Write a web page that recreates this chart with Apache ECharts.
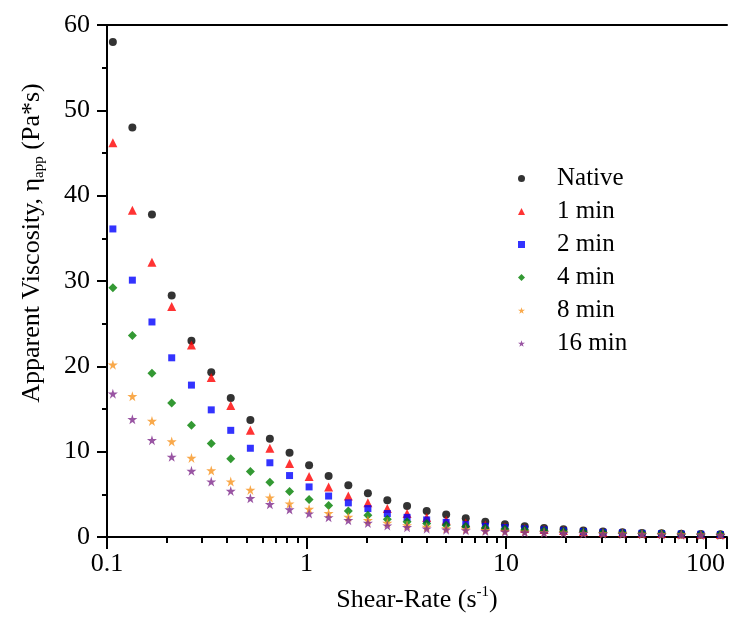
<!DOCTYPE html>
<html>
<head>
<meta charset="utf-8">
<script src="https://cdn.jsdelivr.net/npm/echarts@6.0.0/dist/echarts.min.js"></script>
<style>
  html, body { margin: 0; padding: 0; background: #fff; }
  #chart { width: 730px; height: 622px; }
</style>
</head>
<body>
<div id="chart"></div>
<script>
// shear rate (1/s)
var shearRate = [0.107, 0.134, 0.168, 0.211, 0.265, 0.333, 0.417, 0.523, 0.655, 0.822,
  1.03, 1.29, 1.62, 2.03, 2.54, 3.19, 4.00, 5.01, 6.28, 7.87,
  9.87, 12.4, 15.5, 19.4, 24.4, 30.6, 38.3, 48.0, 60.2, 75.5, 94.6, 118.6];

// apparent viscosity (Pa*s)
var native = [58.0, 48.0, 37.8, 28.3, 23.0, 19.3, 16.3, 13.7, 11.5, 9.86, 8.4, 7.16, 6.07, 5.13, 4.31, 3.64,
  3.05, 2.63, 2.19, 1.80, 1.49, 1.26, 1.06, 0.90, 0.75, 0.63, 0.55, 0.47, 0.43, 0.39, 0.35, 0.32];
var min1 = [46.2, 38.3, 32.2, 27.0, 22.5, 18.7, 15.4, 12.5, 10.4, 8.6, 7.1, 5.87, 4.8, 4.0, 3.33, 2.75,
  2.28, 1.96, 1.64, 1.41, 1.17, 1.0, 0.87, 0.75, 0.65, 0.57, 0.5, 0.44, 0.4, 0.36, 0.33, 0.3];
var min2 = [36.1, 30.1, 25.2, 21.0, 17.8, 14.9, 12.5, 10.4, 8.7, 7.2, 5.87, 4.8, 4.0, 3.33, 2.75, 2.3,
  2.0, 1.72, 1.45, 1.25, 1.1, 0.95, 0.83, 0.72, 0.63, 0.55, 0.48, 0.43, 0.39, 0.35, 0.32, 0.29];
var min4 = [29.2, 23.6, 19.2, 15.7, 13.1, 10.96, 9.16, 7.68, 6.42, 5.33, 4.39, 3.68, 3.05, 2.55, 2.08, 1.8,
  1.57, 1.37, 1.22, 1.06, 0.94, 0.83, 0.74, 0.65, 0.58, 0.51, 0.45, 0.41, 0.37, 0.33, 0.3, 0.28];
var min8 = [20.2, 16.5, 13.6, 11.2, 9.27, 7.79, 6.5, 5.52, 4.62, 3.92, 3.29, 2.78, 2.35, 1.96, 1.64, 1.37,
  1.17, 1.02, 0.9, 0.8, 0.71, 0.63, 0.57, 0.51, 0.46, 0.42, 0.38, 0.35, 0.32, 0.29, 0.27, 0.25];
var min16 = [16.8, 13.8, 11.35, 9.4, 7.75, 6.5, 5.4, 4.54, 3.84, 3.22, 2.75, 2.31, 1.96, 1.64, 1.34, 1.14,
  0.98, 0.86, 0.78, 0.69, 0.62, 0.55, 0.5, 0.45, 0.41, 0.37, 0.34, 0.31, 0.28, 0.26, 0.24, 0.22];

var seriesNames = ['Native', '1 min', '2 min', '4 min', '8 min', '16 min'];

var FONT = '"Liberation Serif", "Times New Roman", serif';
var star = 'path://M50,0 L61,35 L98,35 L68,57 L79,91 L50,70 L21,91 L32,57 L2,35 L39,35 Z';

function pairs(ys) {
  return shearRate.map(function (x, i) { return [x, ys[i]]; });
}

var styles = [
  { data: native, color: '#000000', symbol: 'circle', size: 8 },
  { data: min1, color: '#ff0000', symbol: 'triangle', size: 9 },
  { data: min2, color: '#0000ff', symbol: 'rect', size: 7 },
  { data: min4, color: '#008000', symbol: 'diamond', size: 9 },
  { data: min8, color: '#f7931e', symbol: star, size: 10 },
  { data: min16, color: '#7f2b8c', symbol: star, size: 10 }
];

var logAxisBase = { type: 'log', logBase: 10, min: 0.1, max: 128, splitLine: { show: false } };

var chart = echarts.init(document.getElementById('chart'));
var option = {
  backgroundColor: '#fff',
  animation: false,
  textStyle: { fontFamily: FONT },
  grid: { left: 107, right: 3, top: 25, bottom: 85, outerBoundsMode: 'none' },
  legend: {
    orient: 'vertical',
    left: 518,
    top: 166,
    padding: 0,
    itemGap: 8,
    itemWidth: 7,
    itemHeight: 7,
    data: seriesNames,
    textStyle: { fontFamily: FONT, fontSize: 25, color: '#000', padding: [0, 0, 0, 27] }
  },
  xAxis: [
    Object.assign({}, logAxisBase, {
      position: 'bottom',
      name: '{m|Shear-Rate (s}{sup|-1}{m|)}',
      nameLocation: 'middle',
      nameGap: 48,
      nameTextStyle: {
        fontFamily: FONT, color: '#000',
        rich: {
          m: { fontFamily: FONT, fontSize: 26, color: '#000', lineHeight: 30 },
          sup: { fontFamily: FONT, fontSize: 15, color: '#000', lineHeight: 14, verticalAlign: 'top' }
        }
      },
      axisLine: { lineStyle: { color: '#000', width: 2 } },
      axisTick: { inside: false, length: 12, lineStyle: { color: '#000', width: 2 } },
      // 9 parts between decades -> ticks at 2..9 of each decade
      minorTick: { show: true, splitNumber: 9, length: 6, lineStyle: { color: '#000', width: 2 } },
      axisLabel: {
        margin: 14, color: '#000', fontFamily: FONT, fontSize: 26,
        formatter: function (v) { return String(+(+v).toPrecision(3)); }
      }
    }),
    Object.assign({}, logAxisBase, {
      position: 'top',
      axisLine: { lineStyle: { color: '#000', width: 2 } },
      axisTick: { show: false },
      axisLabel: { show: false }
    })
  ],
  yAxis: {
    type: 'value',
    min: 0,
    max: 60,
    interval: 10,
    splitLine: { show: false },
    name: '{m|Apparent Viscosity, η}{sub|app}{m| (Pa*s)}',
    nameLocation: 'middle',
    nameRotate: 90,
    nameGap: 60,
    nameTextStyle: {
      fontFamily: FONT, color: '#000', padding: [0, 0, 0, 76],
      rich: {
        m: { fontFamily: FONT, fontSize: 26, color: '#000', lineHeight: 30 },
        sub: { fontFamily: FONT, fontSize: 15, color: '#000', lineHeight: 14, verticalAlign: 'bottom' }
      }
    },
    axisLine: { show: true, lineStyle: { color: '#000', width: 2 } },
    axisTick: { show: true, inside: false, length: 10, lineStyle: { color: '#000', width: 2 } },
    minorTick: { show: true, splitNumber: 2, length: 5, lineStyle: { color: '#000', width: 2 } },
    axisLabel: { margin: 17, color: '#000', fontFamily: FONT, fontSize: 26 }
  },
  series: styles.map(function (s, i) {
    return {
      name: seriesNames[i],
      type: 'scatter',
      symbol: s.symbol,
      symbolSize: s.size,
      itemStyle: { color: s.color },
      data: pairs(s.data)
    };
  })
};
chart.setOption(option);
</script>
</body>
</html>
